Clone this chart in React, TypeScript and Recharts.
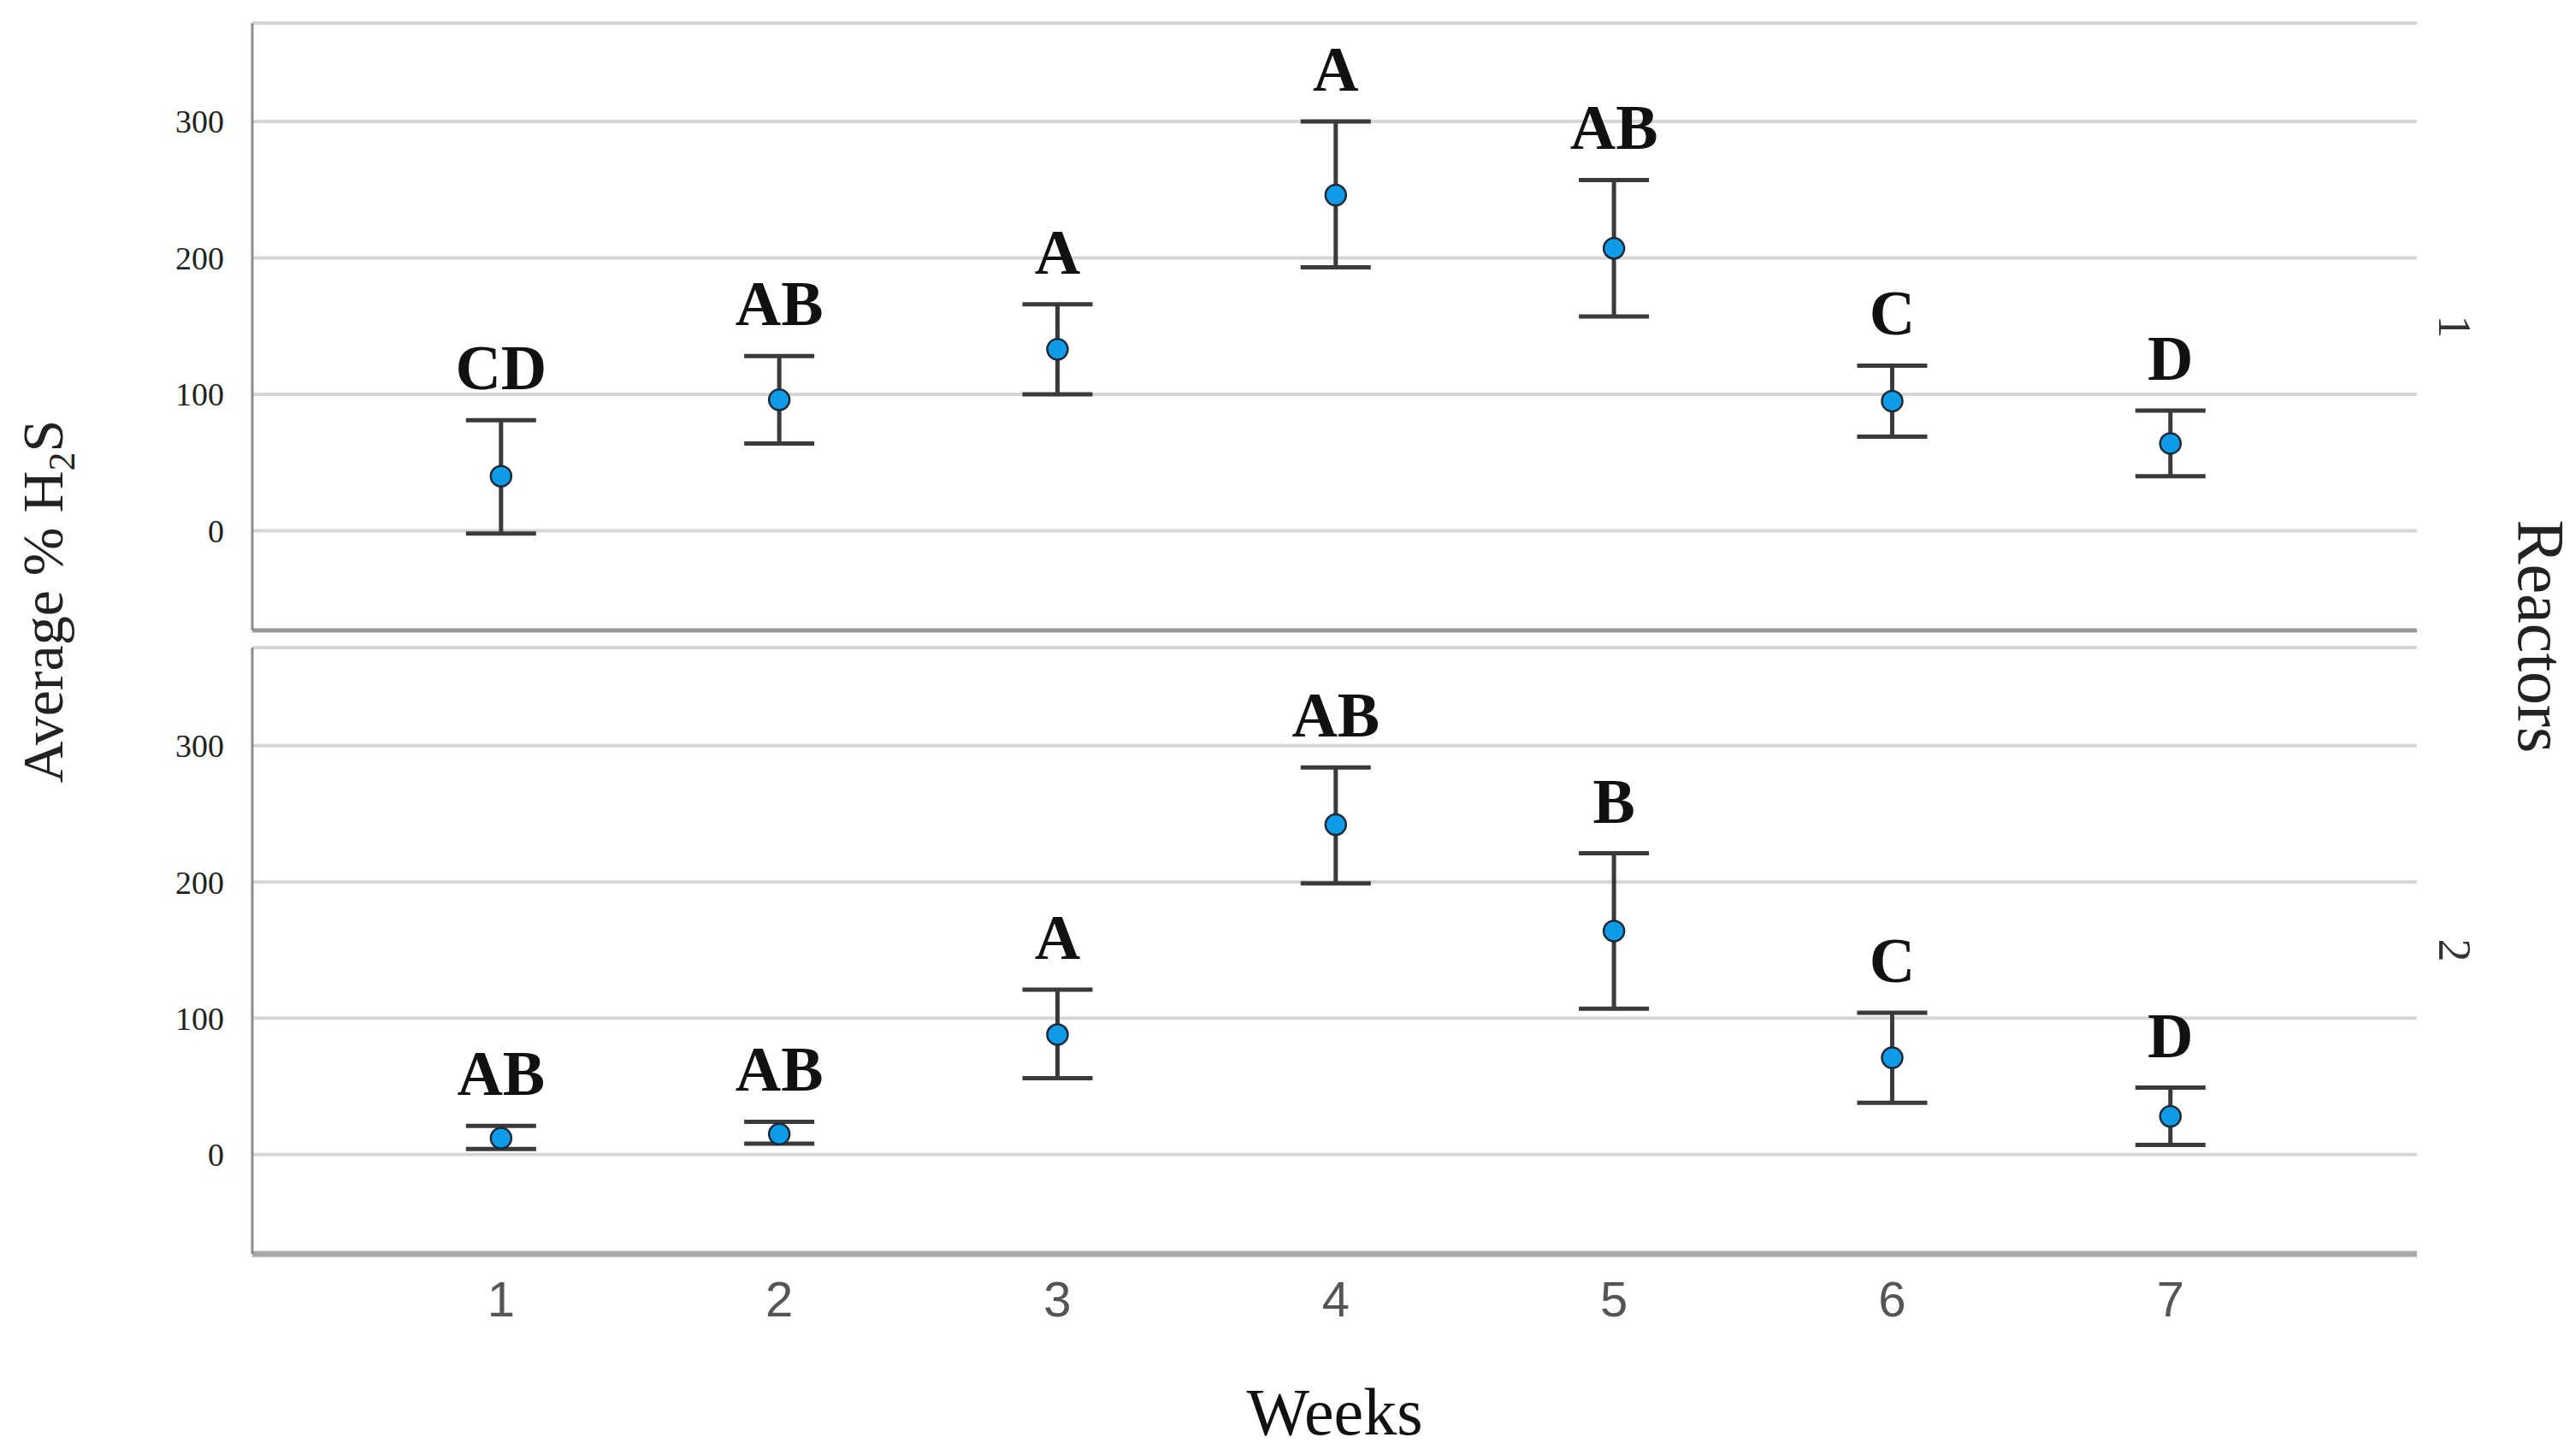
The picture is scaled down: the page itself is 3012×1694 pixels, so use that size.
import React from "react"
import { ScatterChart, Scatter, XAxis, YAxis, CartesianGrid, ErrorBar } from "recharts"

const weeks = [1, 2, 3, 4, 5, 6, 7]
const weekTicks = [1, 2, 3, 4, 5, 6, 7]
const yTicks = [0, 100, 200, 300]

// Reactor 1
const r1Mean = [40, 96, 133, 246, 207, 95, 64]
const r1Upper = [81, 128, 166, 300, 257, 121, 88]
const r1Lower = [-2, 64, 100, 193, 157, 69, 40]
const r1Letters = ["CD", "AB", "A", "A", "AB", "C", "D"]

// Reactor 2
const r2Mean = [12, 15, 88, 242, 164, 71, 28]
const r2Upper = [21, 24, 121, 284, 221, 104, 49]
const r2Lower = [4, 8, 56, 199, 107, 38, 7]
const r2Letters = ["AB", "AB", "A", "AB", "B", "C", "D"]

const SERIF = "'Liberation Serif', 'Times New Roman', serif"
const SANS = "'Liberation Sans', Arial, sans-serif"

const W = 3012
const X_DOMAIN: [number, number] = [0.106, 7.886]
const Y_DOMAIN: [number, number] = [-73, 372]

function buildRows(mean: number[], upper: number[], lower: number[], letters: string[]) {
  return weeks.map((week, i) => ({
    week,
    mean: mean[i],
    upper: upper[i],
    err: [mean[i] - lower[i], upper[i] - mean[i]],
    letter: letters[i],
  }))
}

const rows1 = buildRows(r1Mean, r1Upper, r1Lower, r1Letters)
const rows2 = buildRows(r2Mean, r2Upper, r2Lower, r2Letters)

const Dot = (props: any) => {
  const { cx, cy } = props
  if (cx == null || cy == null) return <g />
  return <circle cx={cx} cy={cy} r={12} fill="#0e9be8" stroke="#1d2a36" strokeWidth={2.5} />
}

// letter sits just above the top of the error bar
const Letter = (props: any) => {
  const { cx, cy, payload } = props
  if (cx == null || cy == null) return <g />
  return (
    <text
      x={cx}
      y={cy - 36}
      textAnchor="middle"
      fontFamily={SERIF}
      fontWeight="bold"
      fontSize={74}
      fill="#111"
    >
      {payload.letter}
    </text>
  )
}

function Panel({ rows, height, top, bottomAxis }: { rows: any[]; height: number; top: number; bottomAxis: boolean }) {
  return (
    <ScatterChart
      width={W}
      height={height}
      margin={{ top, right: 186, bottom: bottomAxis ? 0 : 22, left: 0 }}
    >
      <CartesianGrid horizontal vertical={false} stroke="#d6d6d6" strokeWidth={4} />
      <XAxis
        type="number"
        dataKey="week"
        domain={X_DOMAIN}
        ticks={weekTicks}
        allowDataOverflow
        height={bottomAxis ? 228 : 1}
        tick={bottomAxis ? { fontFamily: SANS, fontSize: 58, fill: "#555" } : false}
        tickLine={false}
        tickSize={0}
        tickMargin={32}
        axisLine={{ stroke: bottomAxis ? "#a8a8a8" : "#9a9a9a", strokeWidth: bottomAxis ? 7 : 5 }}
        label={
          bottomAxis
            ? { value: "Weeks", position: "insideBottom", offset: 17, fontFamily: SERIF, fontSize: 78, fill: "#111" }
            : undefined
        }
      />
      <YAxis
        type="number"
        domain={Y_DOMAIN}
        ticks={yTicks}
        allowDataOverflow
        width={295}
        tick={{ fontFamily: SERIF, fontSize: 38, fill: "#222" }}
        tickLine={false}
        tickSize={0}
        tickMargin={33}
        axisLine={{ stroke: "#8c8c8c", strokeWidth: 3 }}
      />
      <Scatter data={rows} dataKey="mean" shape={<Dot />} isAnimationActive={false}>
        <ErrorBar dataKey="err" direction="y" width={41} stroke="#3a3a3a" strokeWidth={5} />
      </Scatter>
      <Scatter data={rows} dataKey="upper" shape={<Letter />} isAnimationActive={false} />
    </ScatterChart>
  )
}

export default function App() {
  return (
    <div style={{ position: "absolute", left: 0, top: 0, width: W, height: 1694, background: "#fff" }}>
      <div style={{ position: "absolute", left: 0, top: 0 }}>
        <Panel rows={rows1} height={760} top={27} bottomAxis={false} />
      </div>
      <div style={{ position: "absolute", left: 0, top: 740 }}>
        <Panel rows={rows2} height={954} top={17} bottomAxis />
      </div>
      <svg
        width={W}
        height={1694}
        style={{ position: "absolute", left: 0, top: 0, pointerEvents: "none" }}
      >
        <text
          transform="translate(73,703) rotate(-90)"
          textAnchor="middle"
          fontFamily={SERIF}
          fontSize={68}
          fill="#222"
        >
          Average % H
          <tspan fontSize={44} dy={14}>2</tspan>
          <tspan dy={-14}>S</tspan>
        </text>
        <text transform="translate(2945,744) rotate(90)" textAnchor="middle" fontFamily={SERIF} fontSize={78} fill="#222">
          Reactors
        </text>
        <text transform="translate(2852,382) rotate(90)" textAnchor="middle" fontFamily={SERIF} fontSize={54} fill="#333">
          1
        </text>
        <text transform="translate(2852,1111) rotate(90)" textAnchor="middle" fontFamily={SERIF} fontSize={54} fill="#333">
          2
        </text>
      </svg>
    </div>
  )
}
